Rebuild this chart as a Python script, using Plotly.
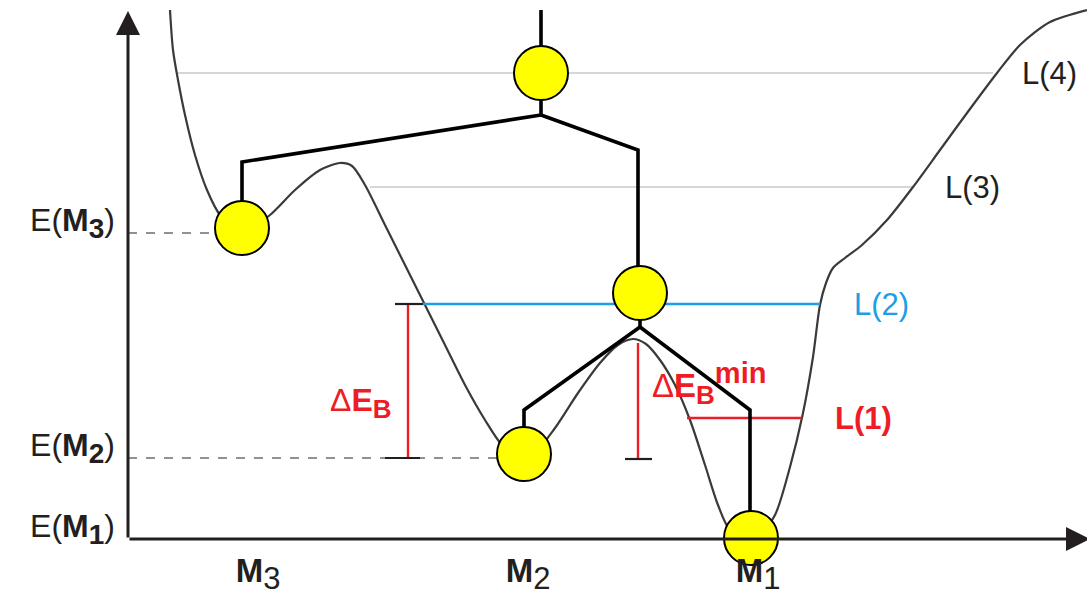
import plotly.graph_objects as go

# ---- data (configuration coordinate X, energy E) ----
curve_x = [42, 45, 50, 57, 67, 79, 92, 107, 122, 142, 167, 192, 212, 224, 237, 257, 277, 297, 317, 337,
           357, 374, 392, 407, 427, 450, 472, 490, 505, 518, 532, 547, 562, 577, 590, 602, 620, 632,
           647, 662, 675, 685, 692, 698, 705, 717, 734, 759, 785, 812, 839, 869, 892, 922, 959]
curve_e = [529, 489, 459, 424, 384, 349, 324, 311, 311, 324, 349, 369, 376, 373, 354, 314, 274, 234, 194, 154,
           119, 94, 82, 87, 111, 146, 176, 194, 200, 195, 179, 154, 119, 74, 34, 9, 1, 4,
           24, 72, 126, 182, 234, 256, 271, 281, 294, 319, 352, 389, 426, 466, 494, 517, 529]

minima_names = ["M3", "M2", "M1"]
minima_x = [130, 400, 630]
energy_names = ["E(M3)", "E(M2)", "E(M1)"]
energy_vals = [306, 81, 0]

levels = {"L(1)": 121, "L(2)": 235, "L(3)": 352, "L(4)": 466}
level_l1_x = [559, 674]
level_l2_x = [295, 692]
level_l3_x = [242, 785]
level_l4_x = [50, 865]

barrier_e = 200          # barrier between M2 and M1
dEB_x = 280              # position of the Delta E_B bracket
dEBmin_x = 510           # position of the Delta E_B^min bracket

# disconnectivity tree nodes
node_x = [114, 413, 512, 396, 623]
node_e = [311, 466, 246, 85, 1]
tree_x = [413, 413, None, 413, 114, 114, None, 413, 510, 510, None,
          512, 512, None, 512, 396, 396, None, 512, 622, 622]
tree_e = [529, 424, None, 424, 377, 311, None, 424, 389, 246, None,
          246, 212, None, 212, 129, 85, None, 212, 129, 1]

FONT = "Liberation Sans, Arial, sans-serif"
RED = "#ee1c24"
BLUE = "#1e9ee6"
GRAY = "#c8c8c8"
AX = "#231f20"


def msub(name, size, bold_sub=False):
    # "M3" -> bold M with a large subscript digit
    d = name[1:]
    if bold_sub:
        d = "<b>" + d + "</b>"
    return "<b>M</b><sub><span style=\"font-size:%dpx\">%s</span></sub>" % (size, d)


x_ticktext = [msub(n, 31) for n in minima_names]
y_ticktext = ["E(" + msub(n[2:4], 28, bold_sub=True) + ")" for n in energy_names]

fig = go.Figure()

# gray levels L(3), L(4)
for xs, e in [(level_l3_x, levels["L(3)"]), (level_l4_x, levels["L(4)"])]:
    fig.add_trace(go.Scatter(x=xs, y=[e, e], mode="lines", line=dict(color=GRAY, width=1.6),
                             hoverinfo="skip"))
# dashed reference lines E(M3), E(M2)
fig.add_trace(go.Scatter(x=[0, 90], y=[energy_vals[0]] * 2, mode="lines",
                         line=dict(color="#6d6d6d", width=1.6, dash="dash"), hoverinfo="skip"))
fig.add_trace(go.Scatter(x=[0, 372], y=[energy_vals[1]] * 2, mode="lines",
                         line=dict(color="#6d6d6d", width=1.6, dash="dash"), hoverinfo="skip"))

# energy curve
fig.add_trace(go.Scatter(x=curve_x, y=curve_e, mode="lines",
                         line=dict(color="#3a3a3a", width=2.2, shape="spline", smoothing=0.8),
                         hoverinfo="skip"))

# L(2) blue, L(1) red
fig.add_trace(go.Scatter(x=level_l2_x, y=[levels["L(2)"]] * 2, mode="lines",
                         line=dict(color=BLUE, width=2.6), hoverinfo="skip"))
fig.add_trace(go.Scatter(x=level_l1_x, y=[levels["L(1)"]] * 2, mode="lines",
                         line=dict(color=RED, width=2.4), hoverinfo="skip"))

# Delta E_B bracket
fig.add_trace(go.Scatter(x=[dEB_x, dEB_x], y=[levels["L(2)"], energy_vals[1]], mode="lines",
                         line=dict(color=RED, width=2.4), hoverinfo="skip"))
fig.add_trace(go.Scatter(x=[dEB_x - 13, dEB_x + 15, None, dEB_x - 23, dEB_x + 12],
                         y=[levels["L(2)"], levels["L(2)"], None, energy_vals[1], energy_vals[1]],
                         mode="lines", line=dict(color=AX, width=2.2), hoverinfo="skip"))
# Delta E_B^min bracket
fig.add_trace(go.Scatter(x=[dEBmin_x, dEBmin_x], y=[barrier_e - 4, energy_vals[1] - 1], mode="lines",
                         line=dict(color=RED, width=2.4), hoverinfo="skip"))
fig.add_trace(go.Scatter(x=[dEBmin_x - 13, dEBmin_x + 14], y=[energy_vals[1] - 1] * 2,
                         mode="lines", line=dict(color=AX, width=2.2), hoverinfo="skip"))

# tree
fig.add_trace(go.Scatter(x=tree_x, y=tree_e, mode="lines", line=dict(color="#000000", width=3.6),
                         connectgaps=False, hoverinfo="skip"))
fig.add_trace(go.Scatter(x=node_x, y=node_e, mode="markers", cliponaxis=False,
                         marker=dict(size=54, color="#ffff00", line=dict(color="#000000", width=2)),
                         hoverinfo="skip"))

ann = [
    dict(x=dEB_x - 14, y=136,
         text="Δ<b>E</b><sub><b><span style=\"font-size:26px\">B</span></b></sub>",
         xanchor="right", yanchor="middle", font=dict(color=RED, size=32)),
    dict(x=dEBmin_x + 12, y=156,
         text="Δ<b>E</b><sub><b><span style=\"font-size:26px\">B</span></b></sub>"
              "<sup><b><span style=\"font-size:29px\">min</span></b></sup>",
         xanchor="left", yanchor="middle", font=dict(color=RED, size=33)),
    dict(x=705, y=levels["L(1)"], text="<b>L(1)</b>", xanchor="left", yanchor="middle",
         font=dict(color=RED, size=31)),
    dict(x=724, y=levels["L(2)"], text="L(2)", xanchor="left", yanchor="middle",
         font=dict(color=BLUE, size=31)),
    dict(x=815, y=levels["L(3)"], text="L(3)", xanchor="left", yanchor="middle",
         font=dict(color="#231f20", size=31)),
    dict(x=892, y=levels["L(4)"], text="L(4)", xanchor="left", yanchor="middle",
         font=dict(color="#231f20", size=31)),
]
for a in ann:
    a.update(showarrow=False, xref="x", yref="y", font=dict(family=FONT, **a["font"]))

# axes drawn as arrows (not clipped by the plot area)
for tip in [(0, 528), (962, 0)]:
    ann.append(dict(x=tip[0], y=tip[1], ax=0, ay=0, xref="x", yref="y", axref="x", ayref="y",
                    text="", showarrow=True, arrowhead=2, arrowsize=1.6, arrowwidth=3,
                    arrowcolor=AX, standoff=0, startstandoff=0))
fig.update_layout(annotations=ann)

fig.update_layout(
    width=1087, height=601,
    margin=dict(l=128, r=0, t=0, b=62, pad=0),
    paper_bgcolor="white", plot_bgcolor="white",
    showlegend=False,
    font=dict(family=FONT, color="#231f20"),
    xaxis=dict(range=[0, 959], showgrid=False, zeroline=False, showline=False, ticks="",
               tickvals=minima_x, ticktext=x_ticktext, tickfont=dict(size=33),
               ticklabelstandoff=9, fixedrange=True),
    yaxis=dict(range=[0, 539], showgrid=False, zeroline=False, showline=False, ticks="",
               tickvals=energy_vals, ticktext=y_ticktext, tickfont=dict(size=32),
               ticklabelstandoff=12, ticklabelshift=-13, fixedrange=True),
)

fig.write_html("out.html", config={"displayModeBar": False})
